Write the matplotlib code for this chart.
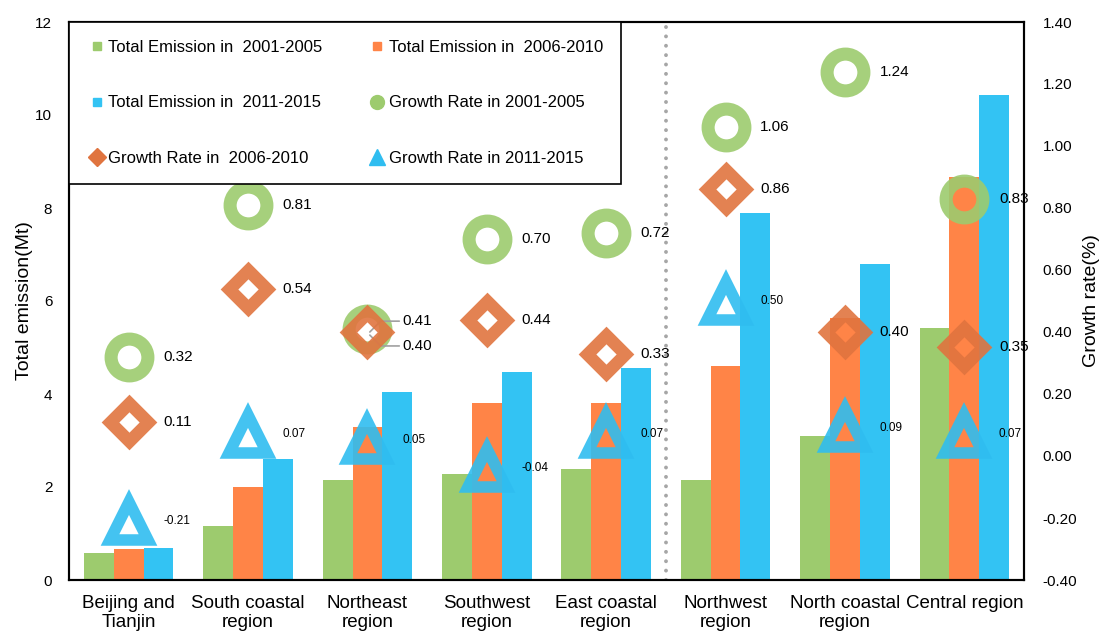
import numpy as np
import matplotlib.pyplot as plt
from matplotlib.lines import Line2D

plt.rcParams['font.family'] = ['Liberation Sans', 'DejaVu Sans']

# --- data ---
regions = ['Beijing and\nTianjin', 'South coastal\nregion', 'Northeast\nregion',
           'Southwest\nregion', 'East coastal\nregion', 'Northwest\nregion',
           'North coastal\nregion', 'Central region']
em_0105 = [0.58, 1.16, 2.16, 2.29, 2.38, 2.16, 3.10, 5.42]
em_0610 = [0.66, 2.00, 3.30, 3.80, 3.81, 4.60, 5.64, 8.66]
em_1115 = [0.69, 2.60, 4.05, 4.48, 4.56, 7.90, 6.80, 10.43]
gr_0105 = [0.32, 0.81, 0.41, 0.70, 0.72, 1.06, 1.24, 0.83]
gr_0610 = [0.11, 0.54, 0.40, 0.44, 0.33, 0.86, 0.40, 0.35]
gr_1115 = [-0.21, 0.07, 0.05, -0.04, 0.07, 0.50, 0.09, 0.07]

C_GREEN = '#9DCB6E'
C_ORANGE = '#FF8447'
C_BLUE = '#33C3F3'
C_DIAM = '#E0743F'
C_TRI = '#2FBDF0'

fig = plt.figure(figsize=(10.99, 6.33), dpi=100)
ax = fig.add_axes([69/1099, 1 - 580/633, (1024-69)/1099, (580-22)/633])
ax2 = ax.twinx()

x = np.arange(len(regions))
w = 0.25
ax.bar(x - w, em_0105, w, color=C_GREEN, zorder=2)
ax.bar(x, em_0610, w, color=C_ORANGE, zorder=2)
ax.bar(x + w, em_1115, w, color=C_BLUE, zorder=2)

ax.set_xlim(-0.5, len(regions) - 0.5)
ax.set_ylim(0, 12)
ax.set_yticks(range(0, 13, 2))
ax.set_xticks(x)
ax.set_xticklabels(regions, fontsize=13.5, linespacing=1.15)
ax.tick_params(axis='x', length=0, pad=11)
ax.tick_params(axis='y', length=0, labelsize=11, pad=12)
ax.set_ylabel('Total emission(Mt)', fontsize=14, labelpad=2)
for s in ax.spines.values():
    s.set_linewidth(1.5)

# dotted divider
ax.axvline(4.5, color='#A6A6A6', ls=(0, (0.01, 2.4)), lw=2.8, dash_capstyle='round', zorder=1)

ax2.set_ylim(-0.4, 1.4)
ax2.set_yticks(np.arange(-0.4, 1.41, 0.2))
ax2.set_yticklabels([f'{v:.2f}' for v in np.arange(-0.4, 1.41, 0.2)])
ax2.tick_params(axis='y', length=0, labelsize=11, pad=13.5)
ax2.set_ylabel('Growth rate(%)', fontsize=14, labelpad=4)
for s in ax2.spines.values():
    s.set_linewidth(1.5)

ax2.plot(x, gr_0105, 'o', ms=26.5, mfc='none', mec=C_GREEN, mew=9.4, alpha=0.9, zorder=3)
ax2.plot(x, gr_0610, 'D', ms=19, mfc='none', mec=C_DIAM, mew=9, alpha=0.9, zorder=4,
         solid_joinstyle='round')
ax2.plot(x, gr_1115, '^', ms=27.5, mfc='none', mec=C_TRI, mew=8.3, alpha=0.9, zorder=5,
         solid_joinstyle='round')

dx = 0.29
for i in range(len(regions)):
    if i == 2:
        continue
    ax2.text(x[i] + dx, gr_0105[i], f'{gr_0105[i]:.2f}', fontsize=11, va='center', zorder=6)
    ax2.text(x[i] + dx, gr_0610[i], f'{gr_0610[i]:.2f}', fontsize=11, va='center', zorder=6)
for i in range(len(regions)):
    ax2.text(x[i] + dx, gr_1115[i], f'{gr_1115[i]:.2f}', fontsize=8.5, va='center', zorder=6)

# Northeast: overlapping labels with leader lines
ax2.annotate(f'{gr_0105[2]:.2f}', xy=(x[2] + 0.02, gr_0105[2] - 0.01), xytext=(x[2] + 0.29, 0.435),
             fontsize=11, va='center',
             arrowprops=dict(arrowstyle='-', color='#A0A0A0', lw=1.2, shrinkA=0, shrinkB=0,
                             connectionstyle='angle,angleA=0,angleB=45,rad=0'))
ax2.annotate(f'{gr_0610[2]:.2f}', xy=(x[2] + 0.02, gr_0610[2] - 0.01), xytext=(x[2] + 0.29, 0.355),
             fontsize=11, va='center',
             arrowprops=dict(arrowstyle='-', color='#A0A0A0', lw=1.2, shrinkA=0, shrinkB=0,
                             connectionstyle='angle,angleA=0,angleB=-45,rad=0'))

# legend (column-major order so rows read as in reference)
h_e1 = Line2D([], [], ls='none', marker='s', ms=6, color=C_GREEN)
h_e2 = Line2D([], [], ls='none', marker='s', ms=6, color=C_ORANGE)
h_e3 = Line2D([], [], ls='none', marker='s', ms=6, color=C_BLUE)
h_g1 = Line2D([], [], ls='none', marker='o', ms=10, mfc=C_GREEN, mec=C_GREEN)
h_g2 = Line2D([], [], ls='none', marker='D', ms=9, color=C_DIAM)
h_g3 = Line2D([], [], ls='none', marker='^', ms=11, color=C_TRI)
handles = [h_e1, h_e3, h_g2, h_e2, h_g1, h_g3]
labels = ['Total Emission in  2001-2005', 'Total Emission in  2011-2015',
          'Growth Rate in  2006-2010', 'Total Emission in  2006-2010',
          'Growth Rate in 2001-2005', 'Growth Rate in 2011-2015']
leg = ax2.legend(handles, labels, ncol=2, loc='upper left', bbox_to_anchor=(0, 1),
                 borderaxespad=0, fontsize=12, frameon=True, fancybox=False,
                 edgecolor='black', framealpha=1, handlelength=1.2, handletextpad=0.1,
                 labelspacing=2.45, columnspacing=2.7, borderpad=1.05)
leg.get_frame().set_linewidth(1.2)
leg.set_zorder(10)

fig.savefig('out.png', dpi=100)
